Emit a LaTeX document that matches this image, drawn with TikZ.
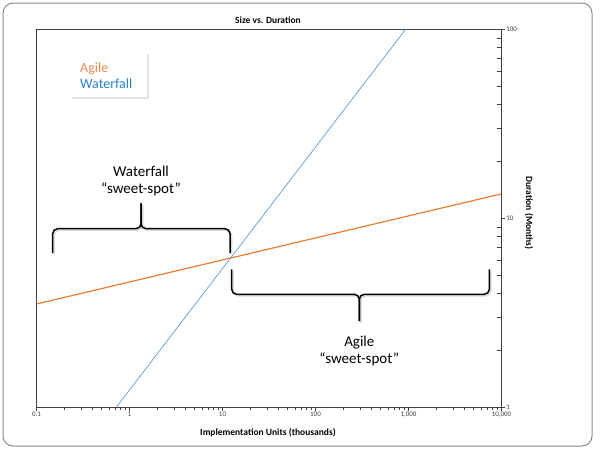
\documentclass[tikz,border=0pt]{standalone}
\usepackage{fontspec}
\setmainfont{Carlito}
\usepackage{tikz}
\usetikzlibrary{shadows}
\definecolor{agile}{RGB}{237,125,49}
\definecolor{agiletxt}{RGB}{232,140,85}
\definecolor{waterfall}{RGB}{91,155,213}
\definecolor{waterfalltxt}{RGB}{40,130,205}
\definecolor{axisgray}{RGB}{64,64,64}

\tikzset{
	brace/.style={line width=1.5pt,rounded corners=5pt},
	braceshadow/.style={line width=1.5pt,rounded corners=5pt,black!15},
	bracetxt/.style={font=\fontsize{15}{18}\selectfont,anchor=base},
	ticktxt/.style={font=\fontsize{7}{8}\selectfont,text=axisgray,inner sep=1pt},
	axistxt/.style={font=\bfseries\fontsize{9.5}{11}\selectfont},
	legtxt/.style={font=\fontsize{14}{16}\selectfont,anchor=base west,inner sep=0pt},
}

\begin{document}
\begin{tikzpicture}[x=1pt,y=-1pt]
	\useasboundingbox (0,0) rectangle (600,455);
	\draw[black!45,line width=1pt,rounded corners=10pt] (3,3) rectangle (592,446);
	
	% plot area
	\coordinate (pa) at (36.5,29.5);
	\coordinate (pb) at (501,407);
	\draw[axisgray,line width=0.9pt] (pa) rectangle (pb);
	\node[axistxt] (title) at (268,20) {Size vs. Duration};
	\node[axistxt] (xlab) at (268,433) {Implementation Units (thousands)};
	\node[axistxt,rotate=-90] (ylab) at (529,213) {Duration (Months)};
	
	% ticks, x axis
	\foreach \d in {-1,...,3}
		\foreach \m in {2,...,9}
			\draw[axisgray,line width=0.6pt] ({36.5+93*(\d+1+log10(\m))},407) -- ++(0,3);
	\foreach \d/\lbl in {0/0.1,1/1,2/10,3/100,4/{1,000},5/{10,000}}
		\draw[axisgray,line width=0.6pt] ({36.5+93*\d},407) -- ++(0,4) node[below,ticktxt] (xt\d) {\lbl};
	% ticks, y axis
	\foreach \d in {0,1}
		\foreach \m in {2,...,9}
			\draw[axisgray,line width=0.6pt] (501,{407-188.75*(\d+log10(\m))}) -- ++(-4,0);
	\foreach \d/\lbl in {0/1,1/10,2/100}
		\draw[axisgray,line width=0.6pt] (501,{407-188.75*\d}) -- ++(4,0) node[right,ticktxt] (yt\d) {\lbl};
	
	% data
	\draw[agile,line width=1.2pt] (36.5,304) -- (501,194);
	\draw[waterfall,line width=0.7pt] (116.5,407) -- (405.5,29.5);
	
	% legend
	\node[fill=white,drop shadow={shadow xshift=2pt,shadow yshift=-2pt,opacity=0.22},anchor=north west,minimum width=77pt,minimum height=45pt,inner sep=0pt] (legbox) at (70,52) {};
	\node[legtxt,text=agiletxt] (legagile) at (80,72) {Agile};
	\node[legtxt,text=waterfalltxt] (legwater) at (80,88.5) {Waterfall};
	
	% waterfall brace
	\draw[braceshadow] (54.2,254.5) |- (142.5,230.2) -- (142.5,204.8);
	\draw[braceshadow] (231.5,254.5) |- (142.5,230.2) -- (142.5,204.8);
	\draw[brace] (52.7,253) |- (141,228.7) -- (141,203.3);
	\draw[brace] (230,253) |- (141,228.7) -- (141,203.3);
	\node[bracetxt] (wfname) at (141,176) {Waterfall};
	\node[bracetxt] (wfspot) at (141,193.5) {“sweet-spot”};
	
	% agile brace
	\draw[braceshadow] (233.2,270.8) |- (360.8,295.8) -- (360.8,322.5);
	\draw[braceshadow] (490.8,270.8) |- (360.8,295.8) -- (360.8,322.5);
	\draw[brace] (231.7,269.3) |- (359.3,294.3) -- (359.3,321);
	\draw[brace] (489.3,269.3) |- (359.3,294.3) -- (359.3,321);
	\node[bracetxt] (agname) at (359.3,346.5) {Agile};
	\node[bracetxt] (agspot) at (359.3,363.5) {“sweet-spot”};
\end{tikzpicture}
\end{document}
